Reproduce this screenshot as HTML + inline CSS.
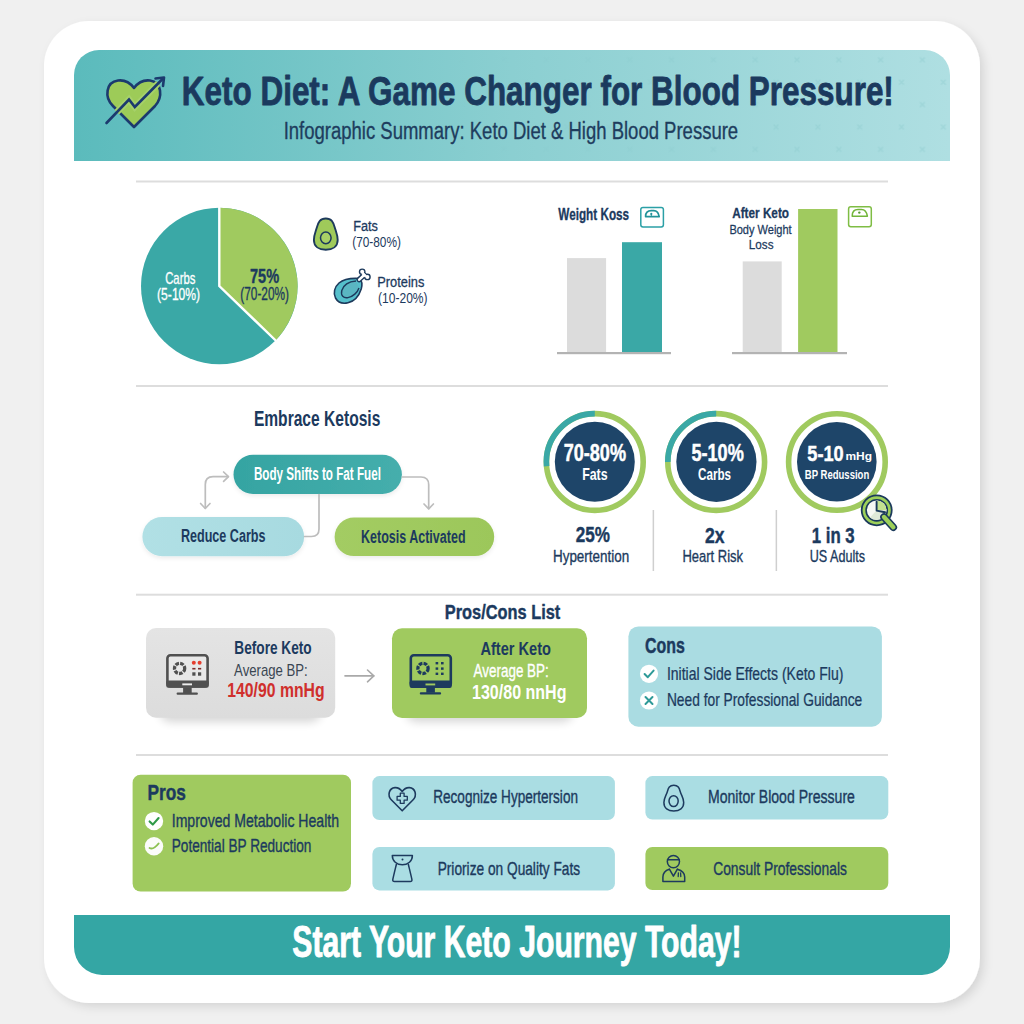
<!DOCTYPE html>
<html><head><meta charset="utf-8"><style>
html,body{margin:0;padding:0;background:#f0f0f0;overflow:hidden;}
svg{display:block;}
text{font-family:"Liberation Sans", sans-serif;}
</style></head><body>
<svg width="1024" height="1024" viewBox="0 0 1024 1024">
<defs>
  <linearGradient id="hdr" x1="0" y1="0" x2="1" y2="0">
    <stop offset="0" stop-color="#5bbbbc"/>
    <stop offset="0.5" stop-color="#8bcfd1"/>
    <stop offset="1" stop-color="#afdfe2"/>
  </linearGradient>
  <linearGradient id="pillT" x1="0" y1="0" x2="1" y2="0">
    <stop offset="0" stop-color="#35a4a2"/>
    <stop offset="1" stop-color="#45aeac"/>
  </linearGradient>
  <linearGradient id="pillB" x1="0" y1="0" x2="1" y2="0">
    <stop offset="0" stop-color="#b1e0e5"/>
    <stop offset="1" stop-color="#a7dae0"/>
  </linearGradient>
  <linearGradient id="pillG" x1="0" y1="0" x2="1" y2="0">
    <stop offset="0" stop-color="#a3cc63"/>
    <stop offset="1" stop-color="#9cc75a"/>
  </linearGradient>
  <linearGradient id="grayBox" x1="0" y1="0" x2="0" y2="1">
    <stop offset="0" stop-color="#e4e4e4"/>
    <stop offset="1" stop-color="#dcdcdc"/>
  </linearGradient>
  <filter id="cardsh" x="-10%" y="-10%" width="120%" height="120%">
    <feDropShadow dx="4" dy="4" stdDeviation="5" flood-color="#000" flood-opacity="0.11"/>
  </filter>
  <filter id="boxsh" x="-20%" y="-20%" width="140%" height="160%">
    <feDropShadow dx="0" dy="4" stdDeviation="4" flood-color="#000" flood-opacity="0.10"/>
  </filter>
  <filter id="blur5" x="-20%" y="-50%" width="140%" height="200%">
    <feGaussianBlur stdDeviation="5"/>
  </filter>
  <filter id="pillsh" x="-20%" y="-20%" width="140%" height="160%">
    <feDropShadow dx="0" dy="2" stdDeviation="2" flood-color="#000" flood-opacity="0.08"/>
  </filter>
</defs>
<rect x="0" y="0" width="1024" height="1024" fill="#f0f0f0"/>
<!-- card -->
<rect x="44" y="21" width="936" height="982" rx="45" fill="#ffffff" filter="url(#cardsh)"/>
<!-- header -->
<path d="M74,161 L74,75 A25,25 0 0 1 99,50 L925,50 A25,25 0 0 1 950,75 L950,161 Z" fill="url(#hdr)"/>
<defs>
  <pattern id="xpat" patternUnits="userSpaceOnUse" width="41.8" height="44.8" x="797" y="59.8">
    <g stroke="#86c6c9" stroke-width="1.5" stroke-linecap="round">
      <path d="M-2,-2 L2,2 M2,-2 L-2,2"/>
      <path d="M39.8,-2 L43.8,2 M43.8,-2 L39.8,2"/>
      <path d="M-2,42.8 L2,46.8 M2,42.8 L-2,46.8"/>
      <path d="M39.8,42.8 L43.8,46.8 M43.8,42.8 L39.8,46.8"/>
      <path d="M18.9,20.4 L22.9,24.4 M22.9,20.4 L18.9,24.4"/>
    </g>
  </pattern>
  <linearGradient id="xfade" x1="0" y1="0" x2="1" y2="0">
    <stop offset="0" stop-color="#fff" stop-opacity="0"/>
    <stop offset="0.45" stop-color="#fff" stop-opacity="0.2"/>
    <stop offset="0.8" stop-color="#fff" stop-opacity="0.7"/>
    <stop offset="1" stop-color="#fff" stop-opacity="0.8"/>
  </linearGradient>
  <mask id="xmask" maskUnits="userSpaceOnUse" x="74" y="50" width="876" height="111"><rect x="74" y="50" width="876" height="111" fill="url(#xfade)"/></mask>
</defs>
<path d="M74,161 L74,75 A25,25 0 0 1 99,50 L925,50 A25,25 0 0 1 950,75 L950,161 Z" fill="url(#xpat)" mask="url(#xmask)" opacity="0.45"/>
<!-- footer -->
<path d="M74,915 L950,915 L950,947 A28,28 0 0 1 922,975 L102,975 A28,28 0 0 1 74,947 Z" fill="#34a6a4"/>
<!-- separators -->
<g fill="#dddddd">
  <rect x="136" y="180.5" width="752" height="2"/>
  <rect x="136" y="385" width="752" height="2"/>
  <rect x="136" y="593.7" width="752" height="2"/>
  <rect x="136" y="754" width="752" height="2"/>
</g>

<!-- header icon: heart + arrow -->
<g>
  <path d="M134,127 L113,106 C104,97 106,82 118,80.5 C126,79.5 131,84 134,88 C137,84 142,79.5 150,80.5 C162,82 163,97 155,106 Z" fill="#9dcb58" stroke="#1c3a6e" stroke-width="2.6" stroke-linejoin="round"/>
  <mask id="heartmask" maskUnits="userSpaceOnUse" x="90" y="60" width="90" height="80"><path d="M134,127 L113,106 C104,97 106,82 118,80.5 C126,79.5 131,84 134,88 C137,84 142,79.5 150,80.5 C162,82 163,97 155,106 Z" fill="#fff" stroke="#fff" stroke-width="3.2"/></mask>
  <path d="M106.5,123 L129,99.5 L134.8,107 L163,78.5" fill="none" stroke="#a6d16a" stroke-width="6.5" mask="url(#heartmask)"/>
  <path d="M106.5,123 L129,99.5 L134.8,107 L163,78.5" fill="none" stroke="#1c3a6e" stroke-width="2.6" stroke-linecap="round"/>
  <path d="M155.5,78.5 L164,77.5 L163,86" fill="none" stroke="#1c3a6e" stroke-width="2.6" stroke-linecap="round" stroke-linejoin="round"/>
</g>

<!-- pie -->
<g>
  <circle cx="219.3" cy="286" r="78.3" fill="#3aa8a6"/>
  <path d="M219.3,286 L219.3,207.7 A78.3,78.3 0 0 1 275.6,340.4 Z" fill="#a0ca5f"/>
  <path d="M219.3,207 L219.3,286 L276.2,341" fill="none" stroke="#ffffff" stroke-width="2.4" stroke-linejoin="miter"/>
</g>
<!-- legend avocado -->
<g>
  <path d="M325.8,218.5 C320,218.5 318.5,222 317,227 C315.5,232 313.9,235 313.9,240 C313.9,246.5 319,249.8 325.8,249.8 C332.6,249.8 337.7,246.5 337.7,240 C337.7,235 336.1,232 334.6,227 C333.1,222 331.6,218.5 325.8,218.5 Z" fill="#9fca5a" stroke="#1d3a5c" stroke-width="1.9"/>
  <ellipse cx="325.8" cy="237.8" rx="5.3" ry="5.9" fill="#a8d066" stroke="#1d3a5c" stroke-width="1.5"/>
</g>
<!-- legend drumstick -->
<g>
  <path d="M359.5,278.5 C352,278 344,278.8 339,283 C334.5,287 333,293 335.5,298 C338,302.5 343,304 348,302.8 C354,301.3 359,296 361.2,289 C362.3,285 361.8,280.5 359.5,278.5 Z" fill="#55bfcb" stroke="#1d3a5c" stroke-width="1.6"/>
  <path d="M356,281 C349,281.5 343.5,285 341.8,290.5 C340.5,295.5 343.5,298.5 348,297.6 C353,296.6 357.5,292.5 359,288" fill="#5ab6c2" stroke="#1d3a5c" stroke-width="1.4"/>
  <path d="M359.2,279.6 L364.2,275" stroke="#1d3a5c" stroke-width="5.4" stroke-linecap="round"/>
  <circle cx="362.2" cy="271.8" r="3.4" fill="#1d3a5c"/>
  <circle cx="367.4" cy="276.9" r="3.4" fill="#1d3a5c"/>
  <path d="M359.2,279.6 L364.2,275" stroke="#ffffff" stroke-width="2.6" stroke-linecap="round"/>
  <circle cx="362.2" cy="271.8" r="2" fill="#fff"/>
  <circle cx="367.4" cy="276.9" r="2" fill="#fff"/>
  <path d="M362.4,273 L366,276.6" stroke="#fff" stroke-width="2.6"/>
</g>

<!-- bar chart 1 -->
<g>
  <rect x="567" y="258.1" width="39.1" height="95" fill="#dcdcdc"/>
  <rect x="622" y="242.2" width="40" height="110.9" fill="#3aa8a6"/>
  <rect x="557" y="352" width="114" height="2.2" fill="#b3b3b3"/>
  <rect x="640.8" y="207.4" width="22.6" height="19.5" rx="2.2" fill="none" stroke="#2ba0a6" stroke-width="1.5"/>
  <path d="M645.6,216.6 C645.6,212.8 647.6,210.7 651.3,210.7 L653.8,210.7 C656.6,210.7 658.6,213.2 659.2,216.6 Z" fill="none" stroke="#22939a" stroke-width="1.7" stroke-linejoin="round"/>
  <circle cx="651.3" cy="213.9" r="1.1" fill="#22939a"/>
  <rect x="650.8" y="214" width="1" height="2.5" fill="#22939a"/>
</g>
<!-- bar chart 2 -->
<g>
  <rect x="742.7" y="261.4" width="39" height="91.6" fill="#dcdcdc"/>
  <rect x="798.1" y="209" width="39.4" height="144" fill="#a0ca5f"/>
  <rect x="732" y="352" width="115" height="2.2" fill="#b3b3b3"/>
  <rect x="848.6" y="206.7" width="22.7" height="20" rx="2.2" fill="none" stroke="#7fbd44" stroke-width="1.5"/>
  <path d="M852.2,216.2 C852.2,212 854.2,209.6 858,209.6 L861.6,209.6 C864.4,209.6 866.6,212.2 867.4,216.2 Z" fill="none" stroke="#72b63a" stroke-width="1.5" stroke-linejoin="round"/>
  <circle cx="859.3" cy="212.6" r="1.2" fill="#5a9a33"/>
</g>

<!-- flow -->
<g filter="url(#pillsh)">
  <rect x="233.5" y="454.8" width="168.4" height="39.2" rx="19.6" fill="url(#pillT)"/>
  <rect x="142.4" y="517.1" width="161.7" height="39.2" rx="19.6" fill="url(#pillB)"/>
  <rect x="334.6" y="517.5" width="159.6" height="38.6" rx="19.3" fill="url(#pillG)"/>
</g>
<g fill="none" stroke="#bdbdbd" stroke-width="1.7" stroke-linecap="round" stroke-linejoin="round">
  <path d="M205.3,508 L205.3,484.5 Q205.3,476.7 213,476.7 L228,476.7"/>
  <path d="M200.6,503.5 L205.3,508.5 L210,503.5"/>
  <path d="M223.6,472 L228.5,476.7 L223.6,481.4"/>
  <path d="M402.3,477 L421,477 Q428.7,477 428.7,484.7 L428.7,508.5"/>
  <path d="M424,504 L428.7,508.8 L433.4,504"/>
  <path d="M319,494.5 L319,529 Q319,536.5 311.5,536.5 L304.5,536.5"/>
</g>

<!-- circles -->
<g>
  <circle cx="594.8" cy="462" r="48.4" fill="none" stroke="#a0ca5f" stroke-width="5.6"/>
  <path d="M546.58,466.2 A48.4,48.4 0 0 1 594.8,413.6" fill="none" stroke="#3aa8a6" stroke-width="5.6"/>
  <circle cx="594.8" cy="461.8" r="40" fill="#1e4569"/>
  <circle cx="716.2" cy="462" r="48.4" fill="none" stroke="#a0ca5f" stroke-width="5.6"/>
  <path d="M667.8,462 A48.4,48.4 0 0 1 716.2,413.6" fill="none" stroke="#3aa8a6" stroke-width="5.6"/>
  <circle cx="716.4" cy="461.8" r="40.1" fill="#1e4569"/>
  <circle cx="836.9" cy="462" r="48.3" fill="none" stroke="#a0ca5f" stroke-width="5.6"/>
  <circle cx="836.8" cy="461.8" r="39.8" fill="#1e4569"/>
</g>
<!-- magnifier -->
<g>
  <circle cx="876.7" cy="510.3" r="15" fill="#9dd05a" stroke="#1b3a5c" stroke-width="1.8"/>
  <circle cx="876.7" cy="510.3" r="10.6" fill="#f6f8f3" stroke="#1b3a5c" stroke-width="1.6"/>
  <path d="M876.7,500.5 A9.8,9.8 0 0 1 886.5,510.3 L876.7,510.3 Z" fill="#c3e28f"/>
  <path d="M886.5,510.3 A9.8,9.8 0 0 1 876.7,520.1 A9.8,9.8 0 0 1 870,517.5 L876.7,510.3 Z" fill="#dfe9d8"/>
  <path d="M876.6,501.8 L876.6,510.6 L885,512.2" fill="none" stroke="#1b3a5c" stroke-width="1.9" stroke-linejoin="round" stroke-linecap="round"/>
  <path d="M884,517 L893.3,527.2" stroke="#1b3a5c" stroke-width="7.6" stroke-linecap="round"/>
  <path d="M884,517 L893.3,527.2" stroke="#9dd05a" stroke-width="4.4" stroke-linecap="round"/>
</g>
<g fill="#cfcfcf">
  <rect x="652.6" y="510" width="1.5" height="61"/>
  <rect x="775.6" y="510" width="1.5" height="61"/>
</g>

<!-- BP boxes -->
<g filter="url(#blur5)" fill="#000" opacity="0.16">
  <rect x="160" y="700" width="161" height="22" rx="10"/>
  <rect x="406" y="700" width="167" height="22" rx="10"/>
</g>
<g>
  <rect x="146" y="628" width="189.2" height="89.7" rx="10" fill="url(#grayBox)"/>
  <rect x="392" y="628.2" width="195" height="89.8" rx="10" fill="#a0ca5f"/>
</g>
<g fill="none" stroke="#a9a9a9" stroke-width="1.6" stroke-linecap="round" stroke-linejoin="round">
  <path d="M345,675.9 L373.8,675.9"/>
  <path d="M367.5,670 L373.8,675.9 L367.5,681.8"/>
</g>
<!-- monitor before -->
<g>
  <rect x="167.4" y="655.2" width="40.2" height="31.2" rx="3" fill="#e8e8e8" stroke="#505050" stroke-width="2.6"/>
  <rect x="166.2" y="680.4" width="42.6" height="7.3" rx="2" fill="#505050"/>
  <rect x="182.3" y="683.4" width="9.7" height="1.9" fill="#eeeeee"/>
  <rect x="183.1" y="687.5" width="8.6" height="5.5" fill="#505050"/>
  <rect x="176.6" y="692.6" width="21.3" height="2.2" rx="1" fill="#505050"/>
  <circle cx="179.6" cy="668.4" r="5.1" fill="none" stroke="#505050" stroke-width="3.3" stroke-dasharray="3.6 1.2"/>
  <circle cx="193.8" cy="662.7" r="2" fill="#e53d2e"/>
  <circle cx="199.6" cy="662.7" r="2" fill="#e53d2e"/>
  <rect x="192.3" y="667.9" width="3.2" height="1.6" fill="#7a2a2a"/>
  <rect x="198" y="667.9" width="3.2" height="1.6" fill="#7a2a2a"/>
  <rect x="192.3" y="672.3" width="3.2" height="3.4" fill="#505050"/>
  <rect x="198" y="672.3" width="3.2" height="3.4" fill="#505050"/>
</g>
<!-- monitor after -->
<g>
  <rect x="410.8" y="655.3" width="40" height="31.2" rx="3" fill="#a0ca5f" stroke="#1d3a5e" stroke-width="2.6"/>
  <rect x="409.6" y="680.6" width="42.2" height="7.3" rx="2" fill="#1d3a5e"/>
  <rect x="425.5" y="683.5" width="9.7" height="1.9" fill="#a0ca5f"/>
  <rect x="426.3" y="687.5" width="8.6" height="5.2" fill="#1d3a5e"/>
  <rect x="419.8" y="692.2" width="21.3" height="2.2" rx="1" fill="#1d3a5e"/>
  <circle cx="423" cy="668.4" r="5.1" fill="none" stroke="#1d3a5e" stroke-width="3.3" stroke-dasharray="3.6 1.2"/>
  <g fill="#1d3a5e">
    <rect x="435.6" y="662" width="2.6" height="2.4"/>
    <rect x="441" y="662" width="2.6" height="2.4"/>
    <rect x="435.6" y="667.4" width="2.6" height="2.4"/>
    <rect x="441" y="667.4" width="2.6" height="2.4"/>
    <rect x="435.6" y="672.6" width="2.6" height="2.4"/>
    <rect x="441" y="672.6" width="2.6" height="2.4"/>
  </g>
</g>

<!-- cons box -->
<rect x="628.4" y="626.4" width="253.5" height="100.3" rx="10" fill="#aadce2"/>
<circle cx="649" cy="673.8" r="9.1" fill="#ffffff"/>
<circle cx="649" cy="700.5" r="9.1" fill="#ffffff"/>
<path d="M644.6,674 L647.8,677.2 L653.6,670.6" fill="none" stroke="#2e9a98" stroke-width="2" stroke-linecap="round" stroke-linejoin="round"/>
<path d="M645.5,697 L652.5,704 M652.5,697 L645.5,704" fill="none" stroke="#2e9a98" stroke-width="2" stroke-linecap="round"/>

<!-- pros box -->
<rect x="132.6" y="774.7" width="218.4" height="116.9" rx="8" fill="#a0ca5f"/>
<circle cx="154" cy="821.1" r="9.2" fill="#ffffff"/>
<circle cx="154" cy="846.3" r="9.2" fill="#fbfcfa"/>
<path d="M149.6,821.4 L152.8,824.6 L158.6,818" fill="none" stroke="#2f9a48" stroke-width="2.1" stroke-linecap="round" stroke-linejoin="round"/>
<path d="M149.6,848 C152,849.5 155,848 158.6,843.5" fill="none" stroke="#8cc152" stroke-width="2" stroke-linecap="round"/>

<!-- tip boxes -->
<rect x="372.4" y="776.1" width="242.5" height="43.9" rx="7" fill="#aadde3"/>
<rect x="372.4" y="846.9" width="242.5" height="43.5" rx="7" fill="#aadde3"/>
<rect x="645.4" y="776.1" width="242.9" height="43.5" rx="7" fill="#aadde3"/>
<rect x="645.4" y="846.9" width="242.9" height="43.2" rx="7" fill="#a0ca5f"/>
<!-- heart plus icon -->
<g fill="none" stroke="#1d3a5e" stroke-width="1.6" stroke-linejoin="round">
  <path d="M402.2,810.8 L391.5,800 C387,795.5 389,788 395,787.6 C398.5,787.4 400.8,789.5 402.2,791.5 C403.6,789.5 405.9,787.4 409.4,787.6 C415.4,788 417.4,795.5 412.9,800 Z"/>
  <path d="M400.3,793.2 h3.8 v3.2 h3.2 v3.8 h-3.2 v3.2 h-3.8 v-3.2 h-3.2 v-3.8 h3.2 Z" stroke-width="1.3"/>
</g>
<!-- vase icon -->
<g fill="none" stroke="#1d3a5e" stroke-width="1.5" stroke-linejoin="round" stroke-linecap="round">
  <path d="M392.3,855.4 L412.4,855.4 C412.4,861 408,864.8 402.35,864.8 C396.7,864.8 392.3,861 392.3,855.4 Z"/>
  <path d="M396.4,864.2 C395,870 393.5,876 392.8,879.5 C392.5,881 393.2,881.6 394.5,881.6 L410.2,881.6 C411.5,881.6 412.2,881 411.9,879.5 C411.2,876 409.7,870 408.3,864.2"/>
  <circle cx="402.5" cy="859.5" r="1" fill="#1d3a5e" stroke="none"/>
</g>
<!-- avocado outline -->
<g fill="none" stroke="#1d3a5e" stroke-width="1.5">
  <path d="M673.8,785.2 C669.4,785.2 668.4,788 667.4,791.5 C666.2,795.5 663.9,798 663.9,802.5 C663.9,808 668,811 673.8,811 C679.6,811 683.7,808 683.7,802.5 C683.7,798 681.4,795.5 680.2,791.5 C679.2,788 678.2,785.2 673.8,785.2 Z"/>
  <ellipse cx="673.6" cy="801.1" rx="4.6" ry="5.4"/>
</g>
<!-- doctor icon -->
<g fill="none" stroke="#1d3a5e" stroke-width="1.5" stroke-linejoin="round" stroke-linecap="round">
  <circle cx="673.4" cy="861.6" r="6.1"/>
  <path d="M667.5,859.8 L679.3,859.8"/>
  <path d="M669.4,869.2 C665,870.5 662.9,873 662.9,877 L662.9,881.4 L684.7,881.4 L684.7,877 C684.7,873 682,870.5 677.4,869.2"/>
  <path d="M669.4,869.2 L673.4,876.2 L677.4,869.2"/>
  <path d="M678.4,872.8 L678.2,876.5 M680.6,873 L680.8,876.5" stroke-width="1.3"/>
</g>

<g>
<text transform="translate(181.87 104.80) scale(0.7645 1)" font-size="41.13" font-weight="700" fill="#1b3a5e" stroke="#1b3a5e" stroke-width="0.823" stroke-linejoin="round">Keto Diet: A Game Changer for Blood Pressure!</text>
<text transform="translate(283.64 138.60) scale(0.7812 1)" font-size="23.69" font-weight="400" fill="#1e3d5e" stroke="#1e3d5e" stroke-width="0.332" stroke-linejoin="round">Infographic Summary: Keto Diet &amp; High Blood Pressure</text>
<text transform="translate(165.20 283.60) scale(0.7014 1)" font-size="16.13" font-weight="400" fill="#ffffff" stroke="#ffffff" stroke-width="0.323" stroke-linejoin="round">Carbs</text>
<text transform="translate(157.09 300.30) scale(0.7126 1)" font-size="17.01" font-weight="400" fill="#ffffff" stroke="#ffffff" stroke-width="0.34" stroke-linejoin="round">(5-10%)</text>
<text transform="translate(250.00 282.80) scale(0.7476 1)" font-size="19.48" font-weight="700" fill="#1c3a5e" stroke="#1c3a5e" stroke-width="0.39" stroke-linejoin="round">75%</text>
<text transform="translate(240.34 300.30) scale(0.6615 1)" font-size="17.88" font-weight="400" fill="#1c3a5e" stroke="#1c3a5e" stroke-width="0.358" stroke-linejoin="round">(70-20%)</text>
<text transform="translate(353.15 230.60) scale(0.8506 1)" font-size="14.97" font-weight="400" fill="#1c3a5e" stroke="#1c3a5e" stroke-width="0.299" stroke-linejoin="round">Fats</text>
<text transform="translate(352.20 247.40) scale(0.8504 1)" font-size="13.95" font-weight="400" fill="#1c3a5e">(70-80%)</text>
<text transform="translate(377.27 286.60) scale(0.8331 1)" font-size="15.41" font-weight="400" fill="#1c3a5e" stroke="#1c3a5e" stroke-width="0.308" stroke-linejoin="round">Proteins</text>
<text transform="translate(378.10 303.40) scale(0.8709 1)" font-size="13.81" font-weight="400" fill="#1c3a5e">(10-20%)</text>
<text transform="translate(558.30 219.50) scale(0.6838 1)" font-size="17.15" font-weight="700" fill="#1c3a5e" stroke="#1c3a5e" stroke-width="0.343" stroke-linejoin="round">Weight Koss</text>
<text transform="translate(732.20 217.70) scale(0.7705 1)" font-size="15.26" font-weight="700" fill="#1c3a5e" stroke="#1c3a5e" stroke-width="0.305" stroke-linejoin="round">After Keto</text>
<text transform="translate(729.38 234.00) scale(0.8158 1)" font-size="13.52" font-weight="400" fill="#1c3a5e" stroke="#1c3a5e" stroke-width="0.27" stroke-linejoin="round">Body Weight</text>
<text transform="translate(748.81 249.40) scale(0.8860 1)" font-size="13.23" font-weight="400" fill="#1c3a5e" stroke="#1c3a5e" stroke-width="0.265" stroke-linejoin="round">Loss</text>
<text transform="translate(253.88 426.40) scale(0.7152 1)" font-size="21.80" font-weight="700" fill="#1c3a5e">Embrace Ketosis</text>
<text transform="translate(253.95 480.00) scale(0.6530 1)" font-size="17.88" font-weight="700" fill="#ffffff">Body Shifts to Fat Fuel</text>
<text transform="translate(180.88 542.30) scale(0.7226 1)" font-size="17.44" font-weight="700" fill="#1c3a5e">Reduce Carbs</text>
<text transform="translate(361.01 542.50) scale(0.6888 1)" font-size="18.17" font-weight="700" fill="#1c3a5e">Ketosis Activated</text>
<text transform="translate(563.63 460.60) scale(0.7742 1)" font-size="23.40" font-weight="700" fill="#ffffff" stroke="#ffffff" stroke-width="0.468" stroke-linejoin="round">70-80%</text>
<text transform="translate(582.14 479.70) scale(0.7624 1)" font-size="16.28" font-weight="700" fill="#ffffff">Fats</text>
<text transform="translate(691.40 460.60) scale(0.7756 1)" font-size="23.40" font-weight="700" fill="#ffffff" stroke="#ffffff" stroke-width="0.468" stroke-linejoin="round">5-10%</text>
<text transform="translate(698.00 479.70) scale(0.7165 1)" font-size="16.28" font-weight="700" fill="#ffffff">Carbs</text>
<text transform="translate(807.30 460.60) scale(0.8244 1)" font-size="22.09" font-weight="700" fill="#ffffff" stroke="#ffffff" stroke-width="0.442" stroke-linejoin="round">5-10</text>
<text transform="translate(845.40 459.90) scale(1.0440 1)" font-size="11.48" font-weight="700" fill="#ffffff">mHg</text>
<text transform="translate(804.80 478.70) scale(0.7369 1)" font-size="12.94" font-weight="700" fill="#ffffff">BP Redussion</text>
<text transform="translate(575.80 542.20) scale(0.7839 1)" font-size="21.80" font-weight="700" fill="#1c3a5e" stroke="#1c3a5e" stroke-width="0.436" stroke-linejoin="round">25%</text>
<text transform="translate(552.95 562.40) scale(0.8494 1)" font-size="15.84" font-weight="400" fill="#1c3a5e" stroke="#1c3a5e" stroke-width="0.317" stroke-linejoin="round">Hypertention</text>
<text transform="translate(704.90 542.70) scale(0.8042 1)" font-size="21.80" font-weight="700" fill="#1c3a5e" stroke="#1c3a5e" stroke-width="0.436" stroke-linejoin="round">2x</text>
<text transform="translate(682.47 562.10) scale(0.8276 1)" font-size="15.70" font-weight="400" fill="#1c3a5e" stroke="#1c3a5e" stroke-width="0.314" stroke-linejoin="round">Heart Risk</text>
<text transform="translate(811.73 542.70) scale(0.7710 1)" font-size="21.80" font-weight="700" fill="#1c3a5e" stroke="#1c3a5e" stroke-width="0.436" stroke-linejoin="round">1 in 3</text>
<text transform="translate(809.70 562.10) scale(0.8040 1)" font-size="15.70" font-weight="400" fill="#1c3a5e" stroke="#1c3a5e" stroke-width="0.314" stroke-linejoin="round">US Adults</text>
<text transform="translate(444.82 618.90) scale(0.7771 1)" font-size="21.08" font-weight="700" fill="#1c3a5e" stroke="#1c3a5e" stroke-width="0.422" stroke-linejoin="round">Pros/Cons List</text>
<text transform="translate(234.32 654.00) scale(0.7831 1)" font-size="17.44" font-weight="700" fill="#1c3a5e">Before Keto</text>
<text transform="translate(234.10 675.70) scale(0.7743 1)" font-size="17.01" font-weight="400" fill="#3a4652">Average BP:</text>
<text transform="translate(227.29 697.10) scale(0.8095 1)" font-size="19.48" font-weight="700" fill="#d02f2c">140/90 mnHg</text>
<text transform="translate(480.40 655.30) scale(0.7912 1)" font-size="18.46" font-weight="700" fill="#1c3a5e">After Keto</text>
<text transform="translate(473.60 677.00) scale(0.7516 1)" font-size="17.88" font-weight="400" fill="#ffffff" stroke="#ffffff" stroke-width="0.358" stroke-linejoin="round">Average BP:</text>
<text transform="translate(472.00 699.00) scale(0.8002 1)" font-size="20.06" font-weight="700" fill="#ffffff">130/80 nnHg</text>
<text transform="translate(645.00 653.20) scale(0.7171 1)" font-size="22.24" font-weight="700" fill="#1c3a5e" stroke="#1c3a5e" stroke-width="0.445" stroke-linejoin="round">Cons</text>
<text transform="translate(666.90 679.50) scale(0.8037 1)" font-size="17.44" font-weight="400" fill="#1c3a5e" stroke="#1c3a5e" stroke-width="0.244" stroke-linejoin="round">Initial Side Effects (Keto Flu)</text>
<text transform="translate(666.92 706.20) scale(0.7834 1)" font-size="17.59" font-weight="400" fill="#1c3a5e" stroke="#1c3a5e" stroke-width="0.246" stroke-linejoin="round">Need for Professional Guidance</text>
<text transform="translate(147.54 799.60) scale(0.7607 1)" font-size="22.67" font-weight="700" fill="#1c3a5e" stroke="#1c3a5e" stroke-width="0.453" stroke-linejoin="round">Pros</text>
<text transform="translate(171.75 826.90) scale(0.7505 1)" font-size="18.75" font-weight="400" fill="#1c3a5e" stroke="#1c3a5e" stroke-width="0.375" stroke-linejoin="round">Improved Metabolic Health</text>
<text transform="translate(171.77 852.00) scale(0.7320 1)" font-size="18.60" font-weight="400" fill="#1c3a5e" stroke="#1c3a5e" stroke-width="0.372" stroke-linejoin="round">Potential BP Reduction</text>
<text transform="translate(433.26 803.40) scale(0.7406 1)" font-size="18.31" font-weight="400" fill="#1c3a5e" stroke="#1c3a5e" stroke-width="0.366" stroke-linejoin="round">Recognize Hypertersion</text>
<text transform="translate(437.67 874.50) scale(0.7318 1)" font-size="18.75" font-weight="400" fill="#1c3a5e" stroke="#1c3a5e" stroke-width="0.375" stroke-linejoin="round">Priorize on Quality Fats</text>
<text transform="translate(708.03 803.40) scale(0.7684 1)" font-size="18.31" font-weight="400" fill="#1c3a5e" stroke="#1c3a5e" stroke-width="0.366" stroke-linejoin="round">Monitor Blood Pressure</text>
<text transform="translate(713.20 874.50) scale(0.7801 1)" font-size="17.73" font-weight="400" fill="#1c3a5e" stroke="#1c3a5e" stroke-width="0.355" stroke-linejoin="round">Consult Professionals</text>
<text transform="translate(292.31 957.20) scale(0.6875 1)" font-size="43.90" font-weight="700" fill="#ffffff" stroke="#ffffff" stroke-width="0.878" stroke-linejoin="round">Start Your Keto Journey Today!</text>
</g>
</svg>
</body></html>
